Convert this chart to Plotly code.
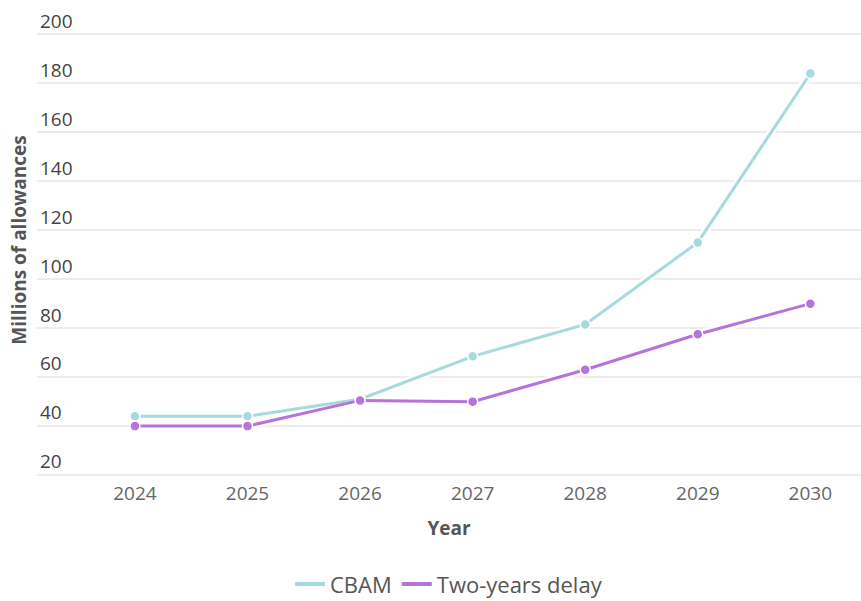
import plotly.graph_objects as go

years = [2024, 2025, 2026, 2027, 2028, 2029, 2030]
cbam = [44, 44, 51, 68.5, 81.5, 115, 184]
two_year_delay = [40, 40, 50.5, 50, 63, 77.5, 90]
y_ticks = [20, 40, 60, 80, 100, 120, 140, 160, 180, 200]

teal = "#a6dadd"
purple = "#b673d9"
font = "Open Sans"

series = [("CBAM", cbam, teal), ("Two-years delay", two_year_delay, purple)]

fig = go.Figure()

# white halo under each line
for _, vals, _c in series:
    fig.add_trace(go.Scatter(
        x=years, y=vals, mode="lines",
        line=dict(color="rgba(255,255,255,0.95)", width=8),
        hoverinfo="skip", showlegend=False,
    ))

for name, vals, color in series:
    fig.add_trace(go.Scatter(
        x=years, y=vals, name=name, mode="lines+markers",
        line=dict(color=color, width=3),
        marker=dict(size=10, color=color, line=dict(color="white", width=1.5)),
        legendgroup=name, showlegend=False,
    ))

# legend entries drawn as plain line swatches
for name, _v, color in series:
    fig.add_trace(go.Scatter(
        x=[None], y=[None], name=name, mode="lines",
        line=dict(color=color, width=4),
        legendgroup=name, showlegend=True,
    ))

fig.update_layout(
    width=861, height=601,
    margin=dict(l=37, r=0, t=0, b=121, autoexpand=False),
    paper_bgcolor="white", plot_bgcolor="white",
    font=dict(family=font, size=19, color="#666666"),
    showlegend=True,
    legend=dict(
        orientation="h", x=0.5, xanchor="center",
        yref="container", y=0.028, yanchor="middle",
        font=dict(size=22, color="#555555"), traceorder="normal",
        itemwidth=30,
    ),
    xaxis=dict(
        range=[2023.13, 2030.45],
        tickvals=years, ticktext=[str(y) for y in years],
        showgrid=False, zeroline=False, showline=False,
        ticks="", ticklabelstandoff=0, automargin=False,
        title=dict(text="<b>Year</b>", font=dict(size=19, color="#555555"), standoff=16),
    ),
    yaxis=dict(
        range=[18, 214],
        tickvals=y_ticks,
        showgrid=True, gridcolor="#ececec", gridwidth=2,
        zeroline=False, showline=False, automargin=False,
        ticklabelposition="inside top",
        title=dict(text="<b>Millions of allowances</b>", font=dict(size=19, color="#555555"), standoff=8),
    ),
)

fig.write_html("out.html")
